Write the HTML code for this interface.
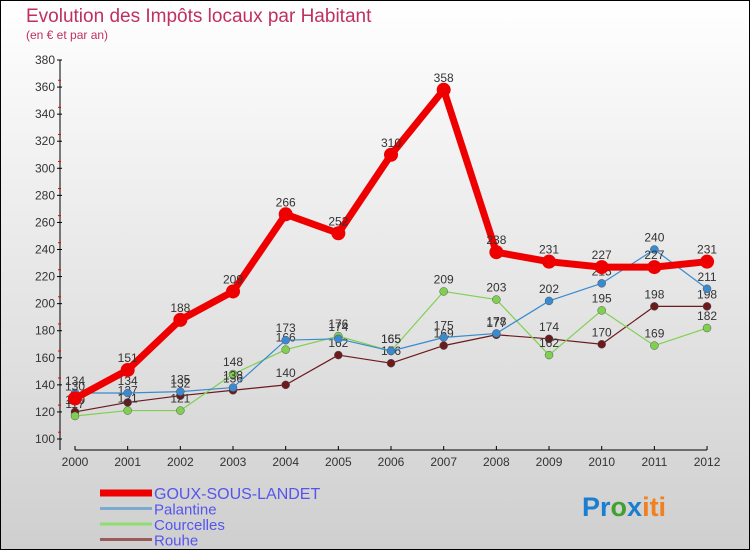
<!DOCTYPE html>
<html><head><meta charset="utf-8"><style>
body{margin:0;}
#c{width:750px;height:550px;position:relative;font-family:"Liberation Sans",sans-serif;}
</style></head><body>
<div id="c">
<svg id="svg" width="750" height="550" xmlns="http://www.w3.org/2000/svg">
<defs><linearGradient id="bg" x1="0" y1="0" x2="0" y2="1"><stop offset="0" stop-color="#ffffff"/><stop offset="1" stop-color="#cfcfcf"/></linearGradient></defs>
<rect x="0.5" y="0.5" width="749" height="549" fill="url(#bg)" stroke="#000"/>
<text x="26" y="22" font-size="19" fill="#c0305e">Evolution des Impôts locaux par Habitant</text>
<text x="26" y="39" font-size="12" fill="#c0305e">(en € et par an)</text>
<g id="axes"></g>
<g id="series"></g>
<g id="legend"></g>
<text x="582" y="516" font-size="27" font-weight="bold"><tspan fill="#1a7fd0">Pr</tspan><tspan fill="#40a030">o</tspan><tspan fill="#1a7fd0">x</tspan><tspan fill="#f08020">iti</tspan></text>
</svg>
</div>
<script>
const years=['2000','2001','2002','2003','2004','2005','2006','2007','2008','2009','2010','2011','2012'];
const yTicks=[100,120,140,160,180,200,220,240,260,280,300,320,340,360,380];
const goux=[130,151,188,209,266,252,310,358,238,231,227,227,231];
const palantine=[134,134,135,138,173,174,165,175,178,202,215,240,211];
const courcelles=[117,121,121,148,166,176,165,209,203,162,195,169,182];
const rouhe=[120,127,132,136,140,162,156,169,177,174,170,198,198];
const NS='http://www.w3.org/2000/svg';
function X(i){return 75+i*52.67;}
function Y(v){return 439-(v-100)*379/280;}
function mk(t,a,p){const e=document.createElementNS(NS,t);for(const k in a)e.setAttribute(k,a[k]);p.appendChild(e);return e;}
const ax=document.getElementById('axes');
const yl=mk('line',{x1:60,y1:60,x2:60,y2:450,stroke:'#000'},ax);


const xl=mk('line',{x1:75,y1:450,x2:707,y2:450,stroke:'#000'},ax);


yTicks.forEach(v=>{
 const y=Y(v);
 mk('line',{x1:57,y1:y,x2:62,y2:y,stroke:'#000'},ax);
 if(v<380)mk('line',{x1:58,y1:y-6.8,x2:61,y2:y-6.8,stroke:'#e00'},ax);
 const t=mk('text',{x:55,y:y+4,'font-size':12,'text-anchor':'end',fill:'#333'},ax);t.textContent=v;
 
 
});
years.forEach((yr,i)=>{
 mk('line',{x1:X(i),y1:446,x2:X(i),y2:450,stroke:'#000'},ax);
 const t=mk('text',{x:X(i),y:466,'font-size':12,'text-anchor':'middle',fill:'#333'},ax);t.textContent=yr;
 
 
});
const sg=document.getElementById('series');
function series(data,color,w,r,name){
 const g=mk('g',{},sg);
 
 
 const p=mk('polyline',{points:data.map((v,i)=>X(i)+','+Y(v)).join(' '),fill:'none',stroke:color,'stroke-width':w,'stroke-linejoin':'round'},g);
 
 
 data.forEach((v,i)=>{
  const c=mk('circle',{cx:X(i),cy:Y(v),r:r,fill:color,stroke:r>5?'none':'#555','stroke-width':0.5},g);
  
  
  const t=mk('text',{x:X(i),y:Y(v)-8,'font-size':12,'text-anchor':'middle',fill:'#333'},g);t.textContent=v;
  
  
 });
}
series(rouhe,'#6b1a1e',1.2,4,'rouhe');
series(courcelles,'#80d050',1.2,4,'courcelles');
series(palantine,'#3a8ad0',1.2,4,'palantine');
series(goux,'#ee0000',7,7,'goux');
const lg=document.getElementById('legend');
const items=[['GOUX-SOUS-LANDET','#ee0000',7],['Palantine','#7aaad0',3],['Courcelles','#90dd70',3],['Rouhe','#9a5a5a',3]];
items.forEach((it,i)=>{
 const y=493+i*15.5;
 const g=mk('g',{},lg);
 
 
 mk('rect',{x:100,y:y-it[2]/2,width:52,height:it[2],fill:it[1]},g);
 const t=mk('text',{x:154,y:y+6,'font-size':i==0?16:15,fill:'#5555ee'},g);t.textContent=it[0];
});
</script>
</body></html>
